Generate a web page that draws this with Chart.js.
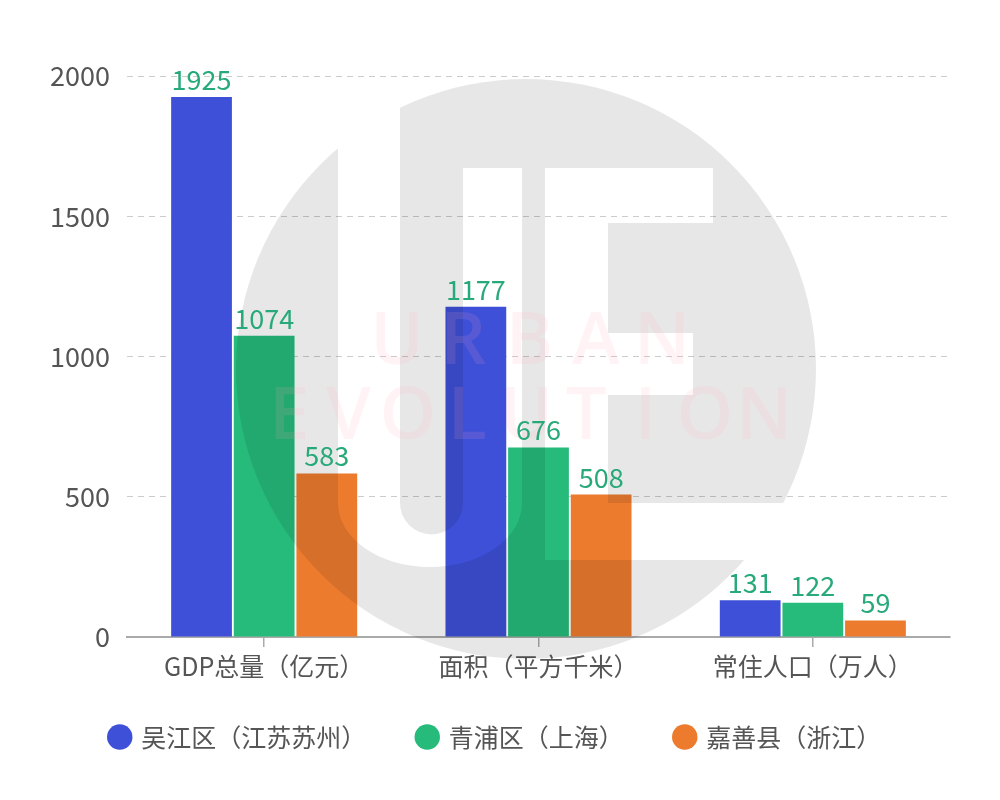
<!DOCTYPE html>
<html><head><meta charset="utf-8">
<script src="https://cdn.jsdelivr.net/npm/chart.js@4/dist/chart.umd.min.js"></script>
<style>html,body{margin:0;padding:0;background:#fff}#wrap{width:1000px;height:800px}</style>
</head><body><div id="wrap"><canvas id="c" width="1000" height="800"></canvas></div>
<script>
const categories = ['GDP总量（亿元）', '面积（平方千米）', '常住人口（万人）'];
const seriesNames = ['吴江区（江苏苏州）', '青浦区（上海）', '嘉善县（浙江）'];
const wujiang = [1925, 1177, 131];
const qingpu = [1074, 676, 122];
const jiashan = [583, 508, 59];
const yTicks = [0, 500, 1000, 1500, 2000];
const watermarkLines = ['URBAN', 'EVOLUTION'];

const FONT = "'Noto Sans CJK SC', 'Microsoft YaHei', sans-serif";
const colors = ['#3e50d8', '#26bb7b', '#ec7b2e'];

const watermark = {
  id: 'watermark',
  afterDatasetsDraw(chart) {
    const ctx = chart.ctx;
    const off = document.createElement('canvas');
    off.width = chart.width; off.height = chart.height;
    const o = off.getContext('2d');
    const gray = 'rgba(0,0,0,0.095)';
    o.fillStyle = gray;
    o.beginPath(); o.arc(526, 369, 290, 0, Math.PI * 2); o.fill();
    o.globalCompositeOperation = 'destination-out';
    o.fillStyle = '#000';
    o.fillRect(338, 0, 62, 503);
    o.fillRect(463, 168, 59, 335);
    o.beginPath(); o.ellipse(430, 503, 92, 64, 0, 0, Math.PI); o.fill();
    o.fillRect(545, 168, 168, 55);
    o.fillRect(545, 223, 63, 280);
    o.fillRect(608, 333, 85, 62);
    o.fillRect(545, 503, 285, 57);
    o.globalCompositeOperation = 'source-over';
    o.fillStyle = gray;
    o.beginPath(); o.ellipse(431.5, 503, 31.5, 31.5, 0, 0, Math.PI); o.fill();
    ctx.save();
    ctx.drawImage(off, 0, 0);
    ctx.fillStyle = 'rgba(255,160,185,0.13)';
    ctx.font = "600 72px 'Open Sans', sans-serif";
    ctx.textAlign = 'center';
    ctx.textBaseline = 'alphabetic';
    const l1 = watermarkLines[0], l2 = watermarkLines[1];
    for (let i = 0; i < l1.length; i++) ctx.fillText(l1[i], 397 + i * 66.25, 364);
    for (let i = 0; i < l2.length; i++) ctx.fillText(l2[i], 289 + i * 59.4, 439);
    ctx.restore();
  }
};

const valueLabels = {
  id: 'valueLabels',
  afterDatasetsDraw(chart) {
    const ctx = chart.ctx;
    ctx.save();
    ctx.font = '27px ' + FONT;
    ctx.fillStyle = '#27a97a';
    ctx.textAlign = 'center';
    ctx.textBaseline = 'alphabetic';
    chart.data.datasets.forEach((ds, i) => {
      chart.getDatasetMeta(i).data.forEach((bar, j) => {
        ctx.fillText(String(ds.data[j]), bar.x, bar.y - 7);
      });
    });
    ctx.restore();
  }
};

const legendShift = {
  id: 'legendShift',
  afterLayout(chart) {
    const lg = chart.legend;
    if (lg) { lg.top -= 14.5; lg.bottom -= 14.5; }
  }
};

new Chart(document.getElementById('c'), {
  type: 'bar',
  data: {
    labels: categories,
    datasets: [
      { label: seriesNames[0], data: wujiang, backgroundColor: colors[0] },
      { label: seriesNames[1], data: qingpu, backgroundColor: colors[1] },
      { label: seriesNames[2], data: jiashan, backgroundColor: colors[2] }
    ]
  },
  options: {
    responsive: false,
    animation: false,
    devicePixelRatio: 1,
    categoryPercentage: 0.685,
    barPercentage: 0.97,
    layout: { padding: { top: 76, right: 50, left: 42, bottom: 26 } },
    plugins: {
      tooltip: { enabled: false },
      legend: {
        position: 'bottom',
        labels: {
          usePointStyle: true,
          pointStyle: 'circle',
          boxWidth: 18,
          boxHeight: 18,
          padding: 52,
          color: '#555',
          font: { family: FONT, size: 25 }
        }
      }
    },
    scales: {
      x: {
        afterFit(scale) { scale.height = 50; },
        border: { display: true, color: '#aaa', width: 2 },
        grid: { display: true, drawOnChartArea: false, drawTicks: true, tickLength: 10, offset: false, color: '#aaa', lineWidth: 1.5 },
        ticks: { color: '#555', font: { family: FONT, size: 25 }, padding: 4, maxRotation: 0 }
      },
      y: {
        min: 0, max: 2000,
        afterFit(scale) { scale.width = 85; },
        afterBuildTicks(scale) { scale.ticks = yTicks.map(v => ({ value: v })); },
        border: { display: false, dash: [6, 5] },
        grid: {
          drawTicks: false,
          color: (c) => (c.tick && c.tick.value === 0) ? 'rgba(0,0,0,0)' : '#cccccc',
          lineWidth: 1
        },
        ticks: { color: '#555', font: { family: FONT, size: 27 }, padding: 17, callback: (v) => String(v) }
      }
    }
  },
  plugins: [watermark, valueLabels, legendShift]
});
</script></body></html>
